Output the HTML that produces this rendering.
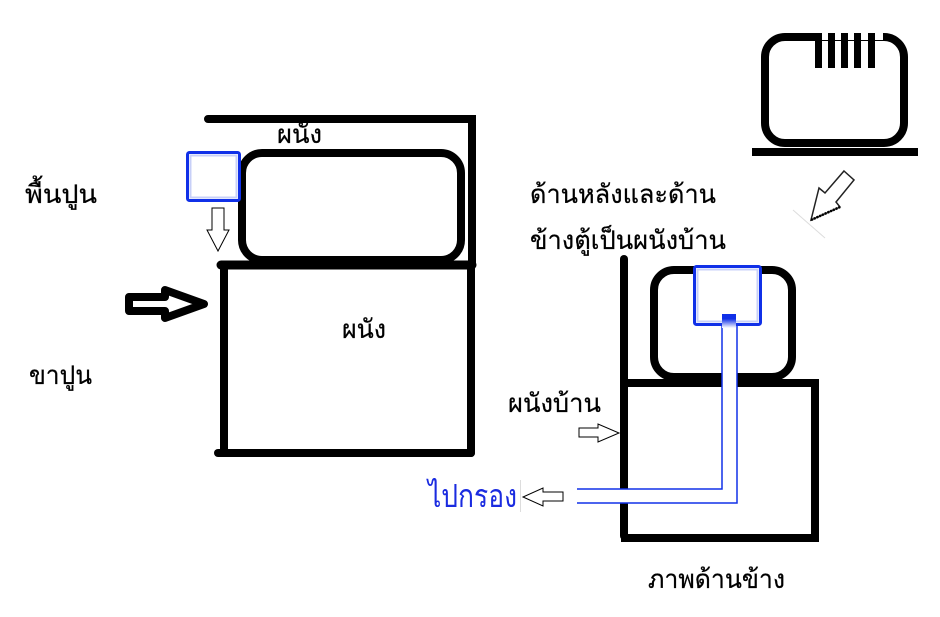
<!DOCTYPE html>
<html lang="th"><head><meta charset="utf-8"><title>Diagram</title>
<style>html,body{margin:0;padding:0;background:#fff}svg{display:block}text{font-family:"Liberation Sans","Noto Sans CJK SC",sans-serif;font-size:26px;fill:#000;stroke:#000;stroke-width:.25}</style></head>
<body>
<svg width="940" height="617" viewBox="0 0 940 617" xmlns="http://www.w3.org/2000/svg">
<defs><linearGradient id="g" x1="0" y1="0" x2="0" y2="1"><stop offset="0" stop-color="#1030e8"/><stop offset=".35" stop-color="#1030e8"/><stop offset="1" stop-color="#fff"/></linearGradient></defs>
<g fill="none" stroke="#000" stroke-width="8" stroke-linecap="round">
<path d="M208 119H472V265"/>
<rect x="242" y="153" width="219" height="107" rx="20"/>
<path d="M221 265H472" stroke-width="9"/><path d="M224 265V453" stroke-linecap="butt"/><path d="M471 265V453"/><path d="M218 453H471"/>
<path d="M624 259V536"/><path d="M625 383H815V538H625" stroke-linecap="square"/>
<rect x="654" y="270" width="138" height="107" rx="20"/>
<rect x="765" y="37" width="139" height="106" rx="20"/>
<path d="M752 152H918" stroke-linecap="butt"/>
</g>
<path d="M129 297H165V290L204 304L165 318V311H129Z" fill="#fff" stroke="#000" stroke-width="8" stroke-linejoin="round"/>
<path d="M212 208H224V230H229L218 251L207 230H212Z M579 428H598V424L619 433L598 442V437H579Z M563 492H543V488L523 497L543 506V501H563Z" fill="#fff" stroke="#000"/>
<rect x="187.500" y="152.500" width="52" height="48" rx="2" fill="#fff" stroke="#1030e8" stroke-width="3"/>
<rect x="190.500" y="155.500" width="46" height="42" fill="none" stroke="#c8d0f8" stroke-width="2"/>
<rect x="694.500" y="266.500" width="66" height="58" rx="2" fill="#fff" stroke="#1030e8" stroke-width="3"/>
<rect x="697.500" y="269.500" width="60" height="52" fill="none" stroke="#c8d0f8" stroke-width="2"/>
<path d="M722 326H737V503H577V489H722Z" fill="#fff"/>
<path d="M722 326V489H577M577 503H737V326" fill="none" stroke="#1030e8" stroke-width="1.500"/>
<rect x="722" y="314" width="14" height="14" fill="url(#g)"/>
<rect x="815" y="28" width="68" height="12" fill="#fff"/>
<g fill="#000"><rect x="815" y="33" width="7" height="35"/><rect x="828" y="33" width="7" height="35"/><rect x="841" y="33" width="7" height="35"/><rect x="854" y="33" width="7" height="35"/><rect x="868" y="33" width="7" height="35"/></g>
<path d="M844 171L854 180L836 202L840 207L811 220L819 188L825 193Z" fill="#fff" stroke="#222" stroke-width="1.500"/>
<path d="M811 220L840 207" stroke="#000" stroke-width="2.500" stroke-dasharray="2 1"/>
<path d="M793 210L825 238" stroke="#ddd" stroke-width="1"/>
<path d="M520.500 480V512" stroke="#ddd" stroke-width="1"/>
<text x="25" y="203" textLength="72" lengthAdjust="spacingAndGlyphs">พื้นปูน</text>
<text x="277" y="143" textLength="45" lengthAdjust="spacingAndGlyphs">ผนัง</text>
<text x="342" y="338" textLength="44" lengthAdjust="spacingAndGlyphs">ผนัง</text>
<text x="29" y="384" textLength="63" lengthAdjust="spacingAndGlyphs">ขาปูน</text>
<text x="530" y="203" textLength="186" lengthAdjust="spacingAndGlyphs">ด้านหลังและด้าน</text>
<text x="530" y="249" textLength="196" lengthAdjust="spacingAndGlyphs">ข้างตู้เป็นผนังบ้าน</text>
<text x="508" y="412" textLength="93" lengthAdjust="spacingAndGlyphs">ผนังบ้าน</text>
<text x="428" y="507" textLength="89" lengthAdjust="spacingAndGlyphs" style="font-size:32px;fill:#1a2be0;stroke:none">ไปกรอง</text>
<text x="648" y="588" textLength="137" lengthAdjust="spacingAndGlyphs">ภาพด้านข้าง</text>
</svg>
</body></html>
